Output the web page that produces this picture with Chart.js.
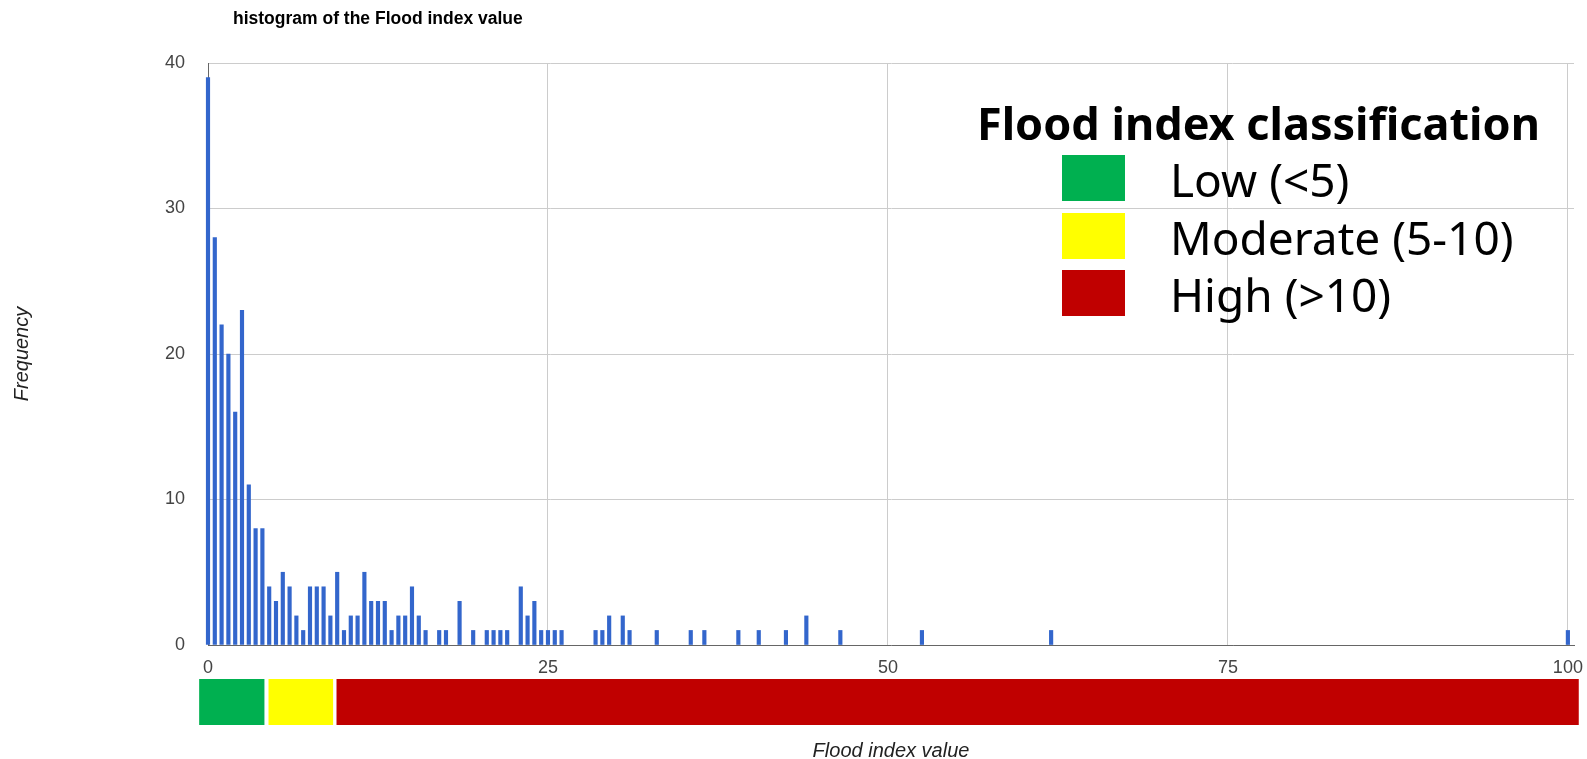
<!DOCTYPE html>
<html>
<head>
<meta charset="utf-8">
<title>histogram of the Flood index value</title>
<script src="https://cdn.jsdelivr.net/npm/chart.js@4.4.1/dist/chart.umd.min.js"></script>
<style>
  html, body { margin: 0; padding: 0; background: #fff; }
  #wrap { position: relative; width: 1587px; height: 759px; overflow: hidden; }
  #chart { position: absolute; left: 0; top: 0; }
  .title {
    position: absolute; left: 233px; top: 8px; line-height: 22px; white-space: nowrap;
    font: bold 17.5px "Liberation Sans", Arial, sans-serif; color: #000;
  }
  .legend-title {
    position: absolute; left: 977px; top: 92px; line-height: 54px; white-space: nowrap;
    font: bold 45px "Noto Sans", sans-serif; color: #000;
  }
  .legend-row { position: absolute; left: 1062px; height: 46px; }
  .legend-row .swatch { position: absolute; left: 0; top: 0; width: 63px; height: 46px; }
  .legend-row .label {
    position: absolute; left: 108px; top: -7px; line-height: 58px; white-space: nowrap;
    font: 46px "Noto Sans", sans-serif; color: #000;
  }
</style>
</head>
<body>
<div id="wrap">
  <canvas id="chart" width="1587" height="759"></canvas>
  <div class="title">histogram of the Flood index value</div>
  <div class="legend-title">Flood index classification</div>
  <div id="legend"></div>
</div>
<script>
// bin start (bin width 0.5) and frequency, non-empty bins only
const BIN_STARTS = [
  0, 0.5, 1, 1.5, 2, 2.5, 3, 3.5, 4, 4.5, 5, 5.5, 6, 6.5, 7, 7.5, 8, 8.5, 9, 9.5,
  10, 10.5, 11, 11.5, 12, 12.5, 13, 13.5, 14, 14.5, 15, 15.5, 16, 17, 17.5, 18.5,
  19.5, 20.5, 21, 21.5, 22, 23, 23.5, 24, 24.5, 25, 25.5, 26, 28.5, 29, 29.5, 30.5,
  31, 33, 35.5, 36.5, 39, 40.5, 42.5, 44, 46.5, 52.5, 62, 100
];
const FREQUENCIES = [
  39, 28, 22, 20, 16, 23, 11, 8, 8, 4, 3, 5, 4, 2, 1, 4, 4, 4, 2, 5,
  1, 2, 2, 5, 3, 3, 3, 1, 2, 2, 4, 2, 1, 1, 1, 3,
  1, 1, 1, 1, 1, 4, 2, 3, 1, 1, 1, 1, 1, 1, 2, 2,
  1, 1, 1, 1, 1, 1, 1, 2, 1, 1, 1, 1
];
const X_TICKS = [0, 25, 50, 75, 100];
const Y_TICKS = [0, 10, 20, 30, 40];

// classification band under the axis (flood index units, as drawn)
const CLASS_LABELS = ['Low (<5)', 'Moderate (5-10)', 'High (>10)'];
const CLASS_COLORS = ['#00b050', '#ffff00', '#c00000'];
const CLASS_RANGES = [[-0.65, 4.15], [4.45, 9.2], [9.45, 100.8]];

const FONT = '"Liberation Sans", Arial, sans-serif';

const bandPlugin = {
  id: 'classBand',
  afterDraw(chart) {
    const { ctx, scales: { x } } = chart;
    ctx.save();
    CLASS_RANGES.forEach((r, i) => {
      const x0 = x.getPixelForValue(r[0]);
      const x1 = x.getPixelForValue(r[1]);
      ctx.fillStyle = CLASS_COLORS[i];
      ctx.fillRect(x0, 679, x1 - x0, 46);
    });
    ctx.restore();
  },
};

new Chart(document.getElementById('chart').getContext('2d'), {
  type: 'bar',
  data: {
    datasets: [{
      data: BIN_STARTS.map((v, i) => ({ x: v, y: FREQUENCIES[i] })),
      backgroundColor: '#3366cc',
      barThickness: 3.5,
      clip: false,
    }],
  },
  options: {
    responsive: false,
    animation: false,
    events: [],
    layout: { padding: { top: 63, right: 13, bottom: 0, left: 0 } },
    plugins: { legend: { display: false }, tooltip: { enabled: false } },
    scales: {
      x: {
        type: 'linear',
        min: 0,
        max: 100.45,
        offset: false,
        afterBuildTicks: (s) => { s.ticks = X_TICKS.map((v) => ({ value: v })); },
        afterFit: (s) => { s.height = 114; s.paddingLeft = 0; s.paddingRight = 0; },
        grid: { color: '#cccccc', drawTicks: false, offset: false },
        border: { color: '#666666' },
        ticks: { autoSkip: false, maxRotation: 0, padding: 12, color: '#444', font: { family: FONT, size: 18 } },
        title: {
          display: true, text: 'Flood index value', color: '#222',
          font: { family: FONT, size: 20, style: 'italic', lineHeight: 0.8 }, padding: { top: 0, bottom: 0 },
        },
      },
      y: {
        min: 0,
        max: 40,
        afterBuildTicks: (s) => { s.ticks = Y_TICKS.map((v) => ({ value: v })); },
        afterFit: (s) => { s.width = 208; s.paddingTop = 0; s.paddingBottom = 0; },
        grid: { color: '#cccccc', drawTicks: false },
        border: { color: '#666666' },
        ticks: { padding: 23, color: '#444', font: { family: FONT, size: 18 } },
        title: {
          display: true, text: 'Frequency', color: '#222',
          font: { family: FONT, size: 20, style: 'italic' }, padding: { top: 10, bottom: 0 },
        },
      },
    },
  },
  plugins: [bandPlugin],
});

// legend overlay
const legend = document.getElementById('legend');
const ROW_TOPS = [155, 213, 270];
CLASS_LABELS.forEach((label, i) => {
  const row = document.createElement('div');
  row.className = 'legend-row';
  row.style.top = ROW_TOPS[i] + 'px';
  const sw = document.createElement('span');
  sw.className = 'swatch';
  sw.style.background = CLASS_COLORS[i];
  const tx = document.createElement('span');
  tx.className = 'label';
  tx.textContent = label;
  row.appendChild(sw);
  row.appendChild(tx);
  legend.appendChild(row);
});
</script>
</body>
</html>
